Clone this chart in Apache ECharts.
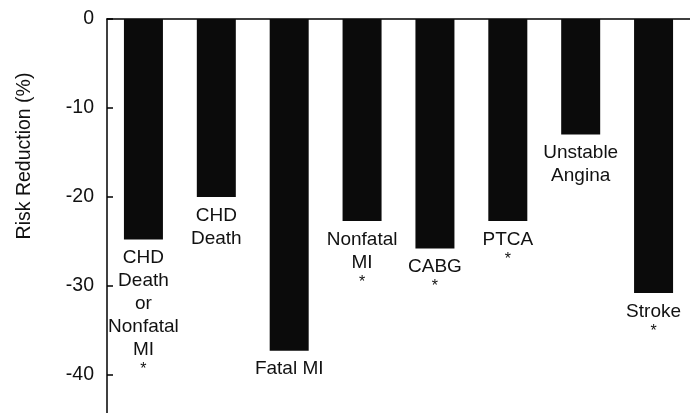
<!DOCTYPE html>
<html>
<head>
<meta charset="utf-8">
<script src="https://cdn.jsdelivr.net/npm/echarts@6/dist/echarts.min.js"></script>
<style>
  html, body { margin: 0; padding: 0; background: #fff; }
  #chart { width: 690px; height: 413px; }
</style>
</head>
<body>
<div id="chart"></div>
<script>
// categories (line breaks as printed under each bar)
const categories = [
    'CHD\nDeath\nor\nNonfatal\nMI',
    'CHD\nDeath',
    'Fatal MI',
    'Nonfatal\nMI',
    'CABG',
    'PTCA',
    'Unstable\nAngina',
    'Stroke'
];
// risk reduction (%)
const riskReduction = [-24.8, -20, -37.3, -22.7, -25.8, -22.7, -13, -30.8];
// which bars carry the significance asterisk
const significant = [true, false, false, true, true, true, false, true];
const yTicks = [0, -10, -20, -30, -40];

const chart = echarts.init(document.getElementById('chart'));

const font = '"Liberation Sans", Arial, Helvetica, sans-serif';

const option = {
    backgroundColor: '#ffffff',
    animation: false,
    grid: {
        left: 107,
        top: 19,
        width: 590,
        bottom: 0
    },
    xAxis: {
        type: 'category',
        position: 'top',
        data: categories,
        axisLine: {
            lineStyle: { color: '#000', width: 1.5 }
        },
        axisTick: { show: false },
        axisLabel: { show: false }
    },
    yAxis: {
        type: 'value',
        min: -44.3,
        max: 0,
        name: 'Risk Reduction (%)',
        nameLocation: 'middle',
        nameRotate: 90,
        nameGap: 72,
        nameTextStyle: {
            fontFamily: font,
            fontSize: 19.5,
            color: '#111',
            // pull the title up towards the top, as in the original
            padding: [0, 0, 0, 120]
        },
        axisLine: {
            show: true,
            lineStyle: { color: '#000', width: 1.5 }
        },
        axisTick: {
            show: true,
            inside: true,
            length: 6,
            customValues: yTicks,
            lineStyle: { color: '#000', width: 1.5 }
        },
        axisLabel: {
            customValues: yTicks,
            margin: 13,
            fontFamily: font,
            fontSize: 19.5,
            color: '#111'
        },
        splitLine: { show: false }
    },
    series: [{
        type: 'bar',
        barWidth: 39,
        data: riskReduction.map((v, i) => ({ value: v, name: categories[i] })),
        itemStyle: { color: '#0b0b0b' },
        label: {
            show: true,
            position: 'bottom',
            distance: 7,
            color: '#111',
            fontFamily: font,
            fontSize: 19,
            lineHeight: 23,
            formatter: p => {
                const lines = categories[p.dataIndex].split('\n').map(s => '{t|' + s + '}');
                if (significant[p.dataIndex]) {
                    lines.push('{s|*}');
                }
                return lines.join('\n');
            },
            rich: {
                t: { fontFamily: font, fontSize: 19, lineHeight: 23, color: '#111' },
                s: { fontFamily: font, fontSize: 16, lineHeight: 17, color: '#111' }
            }
        }
    }]
};

chart.setOption(option);
</script>
</body>
</html>
